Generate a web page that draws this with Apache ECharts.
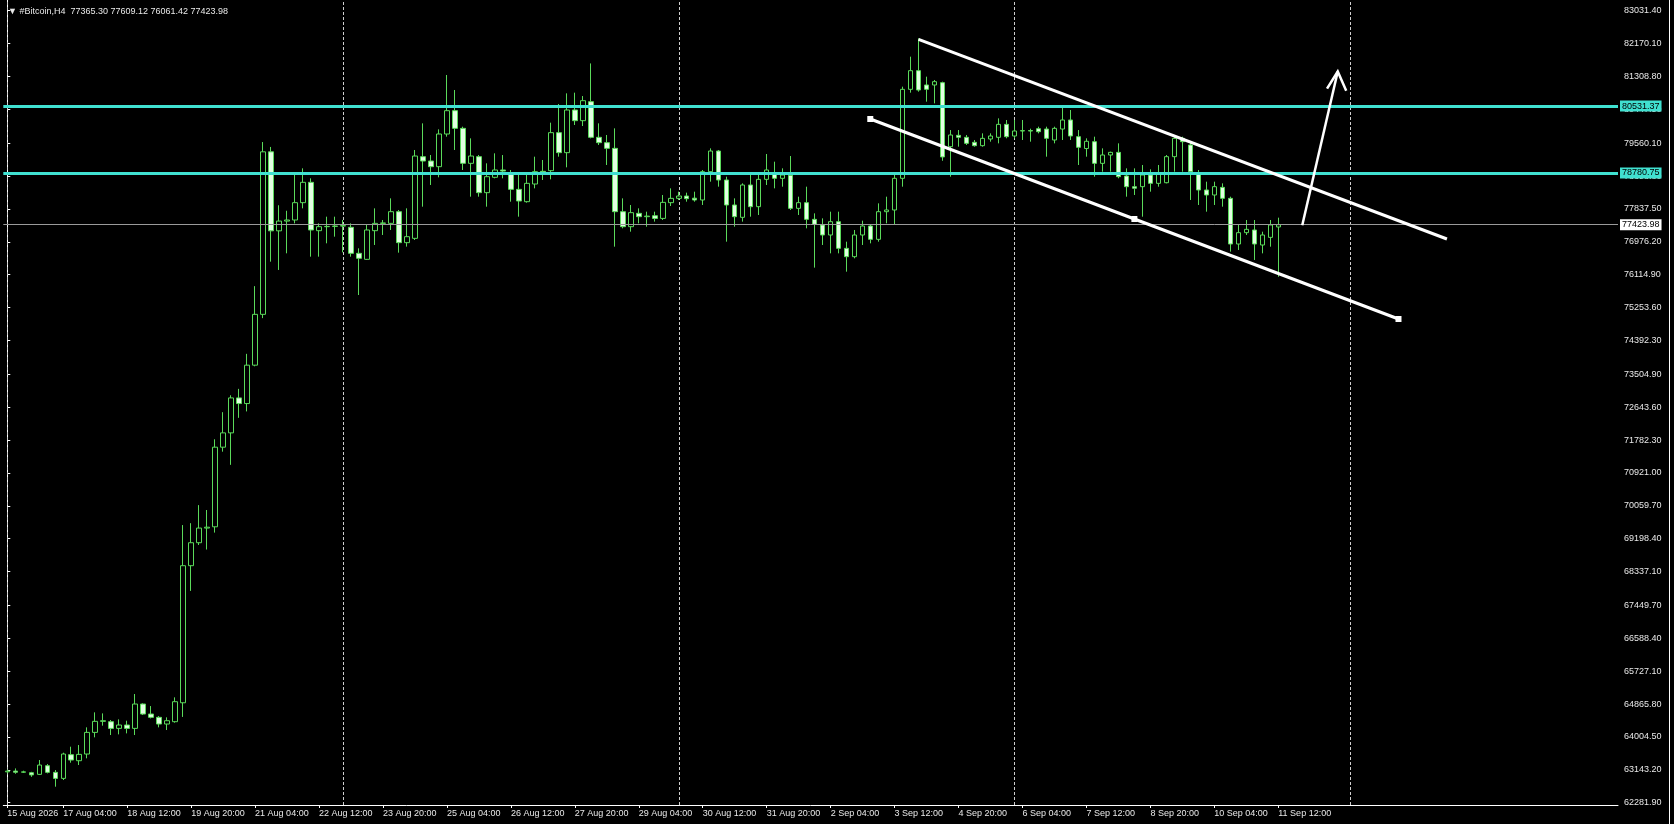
<!DOCTYPE html>
<html><head><meta charset="utf-8">
<script src="https://cdn.jsdelivr.net/npm/echarts@6/dist/echarts.min.js"></script>
<style>
html,body{margin:0;padding:0;background:#000;overflow:hidden}
#chart{width:1669px;height:824px;border-right:1px solid #fff;box-sizing:content-box}
</style>
</head><body><div id="chart"></div>
<script>
const symbolName = '#Bitcoin,H4';
const startTime = Date.UTC(2026, 7, 16, 0, 0);
const slotCount = 202;

const opens = [63090,63110,63080,63068,63024,63251,63077,62919,63540,63382,
63557,64124,64413,64404,64229,64317,64229,64867,64605,64518,
64343,64404,64900,68491,69093,69477,69510,71596,71971,72887,
72739,73745,75076,79334,77264,77520,77548,78002,78535,77268,
77373,77380,77390,77356,76675,76517,77268,77460,77460,77766,
76954,77067,79207,79093,78945,79801,80412,79949,79033,79207,
78264,78666,78858,78770,78351,78028,78491,78823,78840,79836,
79312,80430,80150,80648,79714,79574,79425,77766,77373,77722,
77635,77660,77590,78002,78115,78176,78120,78072,78814,79355,
78596,77941,77618,78465,77897,78613,78753,78640,78718,77853,
78002,77565,77417,77155,77504,76805,76587,77155,77390,77041,
77766,77810,78640,80971,81460,81085,81085,81146,79469,79766,
79714,79583,79495,79670,79714,80054,79749,79880,79890,79940,
79931,79644,79931,80168,79731,79420,79600,79032,79251,79320,
78700,78421,78421,78727,78508,78525,79207,79687,79513,78753,
78334,78203,78403,78115,76919,77216,77286,76893,77093,77365.30];
const highs = [63150,63180,63120,63090,63400,63295,63138,63592,63749,63793,
64256,64649,64622,64448,64465,64430,65129,64884,64814,64552,
64518,65042,69556,69605,70078,69950,71803,72513,72956,73124,
74041,75815,79590,79462,77934,77790,78770,78902,78640,77460,
77635,77635,77550,77460,76806,77417,77853,77548,78115,77810,
77853,79382,80080,79251,79923,81347,80954,79993,79687,79251,
79033,79295,79250,78858,78727,78727,79207,79120,80098,80587,
80866,80884,80796,81650,80080,79775,79949,78115,77941,77853,
77766,77766,78203,78377,78290,78264,78290,78858,79425,79382,
78683,78115,78508,78753,78727,79277,79076,78902,79224,78159,
78421,77722,77591,77766,77766,76980,77286,77530,77430,77984,
78159,78727,81041,81827,82307,81303,81216,81172,79905,79905,
79775,79644,79818,79818,80211,80168,80168,80168,79940,79993,
79993,79993,80534,80430,79905,79687,79731,79425,79338,79556,
78901,78901,78989,78875,78989,79250,79731,79731,79560,78858,
78552,78552,78508,78159,77443,77548,77548,77242,77548,77609.12];
const lows = [63050,63040,63060,62960,63007,63050,62701,62876,63330,63269,
63444,63994,64300,64055,64072,64098,64055,64579,64491,64256,
64186,64378,64529,67831,69033,68915,69358,71478,71133,72365,
72533,73715,74977,76456,76239,76675,77460,77853,76587,76587,
76937,77111,76700,76587,75583,76500,76893,77155,77286,76692,
76850,77024,77897,78465,78666,79731,79382,78858,78159,78159,
77897,78640,78640,78028,77635,78002,78377,78596,78613,79207,
78928,80037,80010,79687,79513,78989,76849,77330,77242,77460,
77373,77505,77548,77914,78072,78028,78028,77941,78552,78421,
76980,77373,77505,77635,77679,78465,78377,78421,77810,77679,
77330,76300,76893,76674,76674,76194,76543,76893,76936,76980,
77460,77417,78421,80884,80910,80648,80604,79100,78683,79469,
79513,79469,79469,79600,79556,79688,79688,79644,79600,79818,
79207,79556,79644,79644,78989,79207,78683,78814,78814,78640,
78159,78203,77635,78290,78421,78508,78814,78814,78072,77941,
77766,77941,77897,76718,76762,77155,76500,76674,76849,76061.42];
const closes = [63110,63080,63090,63010,63269,63077,62919,63557,63400,63548,
64124,64413,64430,64229,64317,64229,64867,64605,64518,64343,
64430,64928,68491,69093,69477,69500,71596,71971,72887,72739,
73745,75076,79334,77264,77520,77548,78002,78535,77286,77373,
77380,77390,77400,76675,76544,77286,77460,77470,77766,76954,
77111,79224,79093,78945,79801,80412,79949,79033,79224,78264,
78683,78858,78830,78351,78046,78508,78814,78770,79836,79312,
80430,80150,80674,79714,79574,79425,77766,77373,77740,77635,
77650,77590,78010,78115,78176,78106,78072,78814,79355,78596,
77941,77635,78465,77897,78613,78858,78640,78727,77853,78002,
77565,77434,77155,77504,76805,76587,77155,77390,77041,77766,
77810,78640,80971,81460,80954,80971,81172,79200,79775,79714,
79556,79495,79687,79749,80054,79731,79880,79890,79880,79862,
79687,79949,80168,79749,79452,79610,79032,79251,79320,78683,
78421,78380,78727,78508,78770,79207,79687,79600,78814,78334,
78203,78421,78115,76919,77216,77303,76919,77155,77417,77423.98];

const xTickLabels = ['15 Aug 2026','17 Aug 04:00','18 Aug 12:00','19 Aug 20:00','21 Aug 04:00',
'22 Aug 12:00','23 Aug 20:00','25 Aug 04:00','26 Aug 12:00','27 Aug 20:00','29 Aug 04:00',
'30 Aug 12:00','31 Aug 20:00','2 Sep 04:00','3 Sep 12:00','4 Sep 20:00','6 Sep 04:00',
'7 Sep 12:00','8 Sep 20:00','10 Sep 04:00','11 Sep 12:00'];
const weekLines = ['16 Aug 00:00','23 Aug 00:00','30 Aug 00:00','6 Sep 00:00','13 Sep 00:00'];
const yTickValues = [83031.40,82170.10,81308.80,80447.50,79560.10,78698.80,77837.50,76976.20,
76114.90,75253.60,74392.30,73504.90,72643.60,71782.30,70921.00,70059.70,69198.40,68337.10,
67449.70,66588.40,65727.10,64865.80,64004.50,63143.20,62281.90];
const yMin = 62221.6, yMax = 83311.7;
const levels = [80531.37, 78780.75];
const lastPrice = 77423.98;
// trend objects: [bar index, price]
const channelUpper = [[114.0, 82282],[180.1, 77050]];
const channelLower = [[107.96, 80194],[141.0, 77574],[174.04, 74954]];
const arrowShaft = [[162.0, 77409],[166.44, 81438]];
const arrowHead = [[165.1, 80990],[166.44, 81438],[167.5, 80935]];

const MONTHS = ['Jan','Feb','Mar','Apr','May','Jun','Jul','Aug','Sep','Oct','Nov','Dec'];
const categories = Array.from({length: slotCount}, (_, i) => {
  const d = new Date(startTime + i * 4 * 3600e3);
  return d.getUTCDate() + ' ' + MONTHS[d.getUTCMonth()] + ' ' + String(d.getUTCHours()).padStart(2,'0') + ':00';
});
const labelAt = {};
xTickLabels.forEach((t, k) => { const idx = categories.indexOf(t); labelAt[idx >= 0 ? idx : 0] = t; });
const candleData = opens.map((o, i) => [o, closes[i], lows[i], highs[i]]);
const last = opens.length - 1;
const fmt = v => v.toFixed(2);

const FONT = 'Liberation Sans';
const GREEN = '#5ada5a';
const CYAN = '#40e0d0';
const chart = echarts.init(document.getElementById('chart'), null, {renderer: 'canvas'});
chart.setOption({
  backgroundColor: '#000',
  animation: false,
  textStyle: {fontFamily: FONT},
  title: {
    text: '▼ ' + symbolName + '  ' + [opens[last], highs[last], lows[last], closes[last]].map(fmt).join(' '),
    left: 3, top: 2,
    textStyle: {color: '#e8e8e8', fontSize: 9, fontWeight: 'normal', fontFamily: FONT}
  },
  grid: {left: 3.3, right: 51, top: 0, bottom: 19, containLabel: false},
  xAxis: [{
    type: 'category', data: categories, boundaryGap: true,
    axisLine: {lineStyle: {color: '#fff', width: 1}},
    axisTick: {show: true, alignWithLabel: true, length: 3, interval: (i) => labelAt[i] !== undefined, lineStyle: {color: '#fff'}},
    axisLabel: {interval: (i) => labelAt[i] !== undefined, formatter: (v, i) => labelAt[i] || '',
      color: '#e8e8e8', fontSize: 9, align: 'left', margin: 4, fontFamily: FONT},
    splitLine: {show: false}
  }, {
    type: 'value', min: -0.5, max: slotCount - 0.5, show: false, splitLine: {show: false}
  }],
  yAxis: {
    type: 'value', position: 'right', min: yMin, max: yMax, scale: true,
    axisLine: {show: true, lineStyle: {color: '#fff', width: 1}},
    axisTick: {show: true, length: 3, customValues: yTickValues, lineStyle: {color: '#fff'}},
    axisLabel: {customValues: yTickValues, formatter: fmt, color: '#e8e8e8', fontSize: 9, margin: 6, fontFamily: FONT},
    splitLine: {show: false}
  },
  series: [{
    type: 'line', xAxisIndex: 1, data: [], silent: true, z: 1,
    markLine: {
      silent: true, symbol: 'none', z: 1, animation: false,
      label: {show: false},
      lineStyle: {color: '#cfcfcf', width: 1, type: [3, 2]},
      data: weekLines.map(w => ({xAxis: categories.indexOf(w)}))
    }
  }, {
    type: 'candlestick', xAxisIndex: 0, yAxisIndex: 0, data: candleData, z: 2,
    barWidth: 5, silent: true,
    itemStyle: {color: '#000', color0: '#e2ffe2', borderColor: GREEN, borderColor0: GREEN, borderWidth: 1},
    markLine: {
      silent: true, symbol: 'none', animation: false, z: 5,
      data: [
        ...levels.map(v => ({yAxis: v, lineStyle: {color: CYAN, width: 3, type: 'solid'},
          label: {show: true, position: 'end', distance: 2, formatter: fmt(v), color: '#000',
            backgroundColor: CYAN, padding: [1, 2, 1, 2], fontSize: 9, fontFamily: FONT}})),
        {yAxis: lastPrice, lineStyle: {color: '#9a9a9a', width: 1, type: 'solid'},
          label: {show: true, position: 'end', distance: 2, formatter: fmt(lastPrice), color: '#000',
            backgroundColor: '#fff', padding: [1, 2, 1, 2], fontSize: 9, fontFamily: FONT}}
      ]
    }
  }, {
    type: 'line', xAxisIndex: 1, data: channelUpper, symbol: 'none', silent: true, z: 6,
    lineStyle: {color: '#fff', width: 3}
  }, {
    type: 'line', xAxisIndex: 1, data: channelLower, symbol: 'rect', symbolSize: 6, showAllSymbol: true,
    silent: true, z: 6, itemStyle: {color: '#fff'}, lineStyle: {color: '#fff', width: 3}
  }, {
    type: 'line', xAxisIndex: 1, data: arrowShaft, symbol: 'none', silent: true, z: 6,
    lineStyle: {color: '#fff', width: 2.5}
  }, {
    type: 'line', xAxisIndex: 1, data: arrowHead, symbol: 'none', silent: true, z: 6,
    lineStyle: {color: '#fff', width: 2.5, join: 'miter'}
  }]
});
</script>
</body></html>
